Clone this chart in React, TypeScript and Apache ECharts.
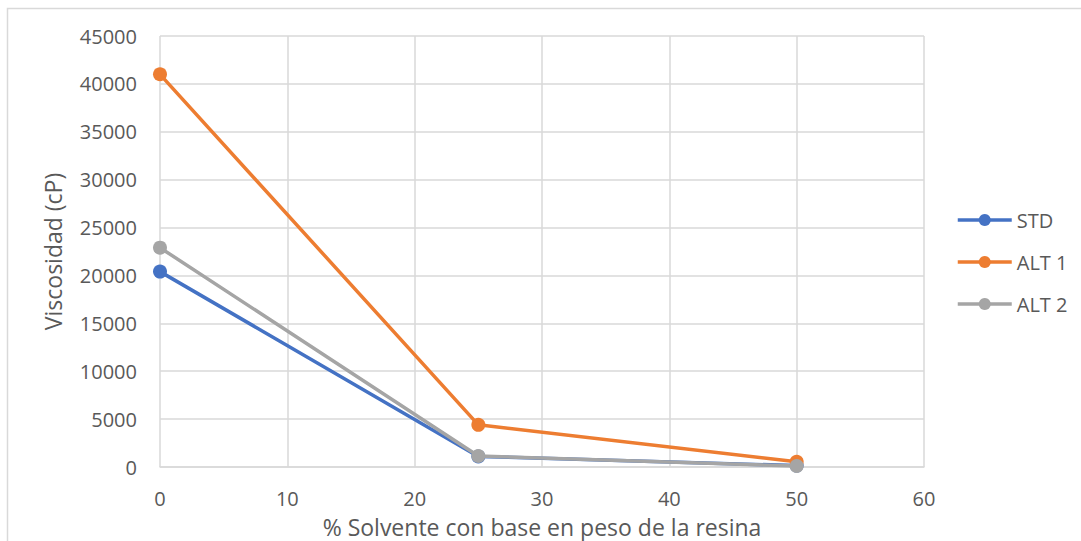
import React, { useEffect, useRef } from "react";
import * as echarts from "echarts";

// Solvent percentage (by resin weight) and measured viscosity per formulation
const solventPct = [0, 25, 50];
const stdValues = [20400, 1100, 150];
const alt1Values = [41000, 4400, 550];
const alt2Values = [22900, 1150, 100];
const seriesNames = ["STD", "ALT 1", "ALT 2"];
const seriesColors = ["#4472C4", "#ED7D31", "#A5A5A5"];

const FONT = "Open Sans";
const TEXT = "#595959";
const GRID = "#D9D9D9";

const toPoints = (vals: number[]) => solventPct.map((x, i) => [x, vals[i]]);

export default function App() {
  const ref = useRef<HTMLDivElement>(null);

  useEffect(() => {
    if (!ref.current) return;
    const chart = echarts.init(ref.current, undefined, { renderer: "svg" });
    const allValues = [stdValues, alt1Values, alt2Values];
    chart.setOption({
      animation: false,
      backgroundColor: "#ffffff",
      textStyle: { fontFamily: FONT, color: TEXT },
      graphic: [
        {
          type: "rect",
          shape: { x: 7.5, y: 8.5, width: 1200, height: 700 },
          style: { fill: "none", stroke: GRID, lineWidth: 1.5 },
          silent: true,
        },
      ],
      grid: {
        left: 160,
        right: 157,
        top: 36,
        bottom: 74,
        outerBoundsMode: "none",
        containLabel: false,
      },
      legend: {
        orient: "vertical",
        left: 951,
        top: 205,
        padding: 5,
        itemWidth: 54,
        itemHeight: 15,
        itemGap: 22,
        lineStyle: { width: 3.5 },
        textStyle: { fontFamily: FONT, fontSize: 20, color: TEXT },
        data: seriesNames,
      },
      xAxis: {
        type: "value",
        min: 0,
        max: 60,
        interval: 10,
        name: "% Solvente con base en peso de la resina",
        nameLocation: "middle",
        nameGap: 48,
        nameTextStyle: { fontFamily: FONT, fontSize: 23, color: TEXT },
        axisLine: { show: true, lineStyle: { color: GRID, width: 1.5 } },
        axisTick: { show: false },
        axisLabel: { fontFamily: FONT, fontSize: 20, color: TEXT, margin: 21 },
        splitLine: { show: true, lineStyle: { color: GRID, width: 1.5 } },
      },
      yAxis: {
        type: "value",
        min: 0,
        max: 45000,
        interval: 5000,
        name: "Viscosidad (cP)",
        nameLocation: "middle",
        nameGap: 96,
        nameRotate: 90,
        nameTextStyle: { fontFamily: FONT, fontSize: 23, color: TEXT },
        axisLine: { show: false },
        axisTick: { show: false },
        axisLabel: {
          fontFamily: FONT,
          fontSize: 20,
          color: TEXT,
          margin: 23,
          formatter: (v: number) => String(v),
        },
        splitLine: { show: true, lineStyle: { color: GRID, width: 1.5 } },
      },
      series: seriesNames.map((name, i) => ({
        name,
        type: "line",
        data: toPoints(allValues[i]),
        symbol: "circle",
        symbolSize: 14,
        lineStyle: { width: 3.5, color: seriesColors[i] },
        itemStyle: { color: seriesColors[i] },
        z: 2 + i,
      })),
    });
    return () => chart.dispose();
  }, []);

  return (
    <div
      ref={ref}
      style={{ position: "fixed", left: 0, top: 0, width: 1081, height: 541 }}
    />
  );
}
